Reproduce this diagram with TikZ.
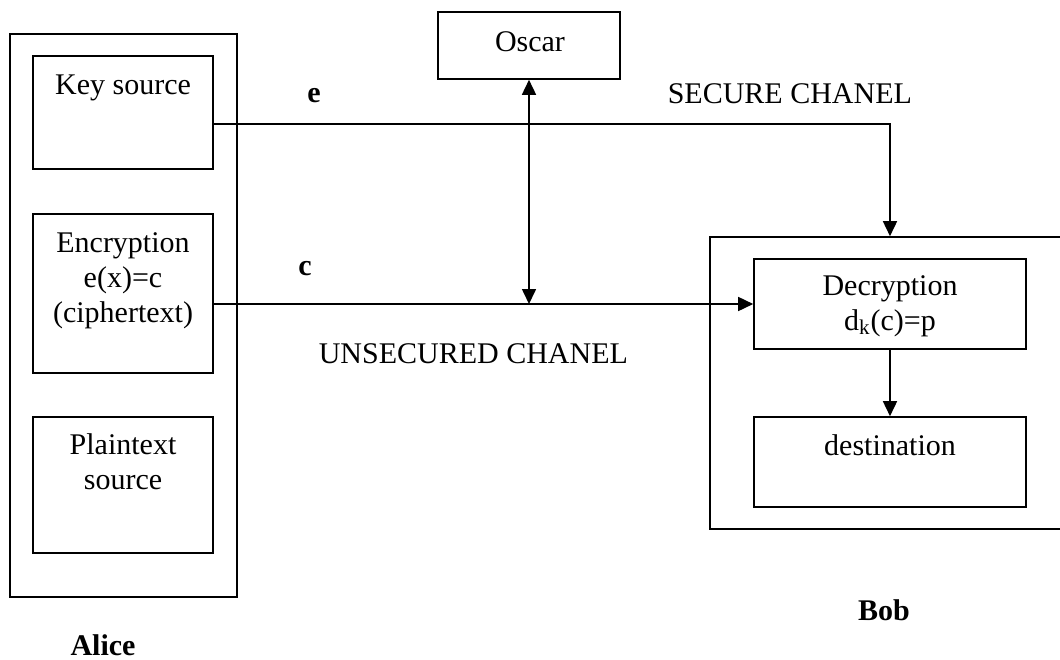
\documentclass[tikz,border=0pt]{standalone}
\usepackage{fontspec}
\setmainfont{Liberation Serif}
\usetikzlibrary{arrows.meta}

\begin{document}
\begin{tikzpicture}[x=0.5pt, y=-0.5pt, line width=0.8pt,
  every node/.style={font=\fontsize{15}{17.5}\selectfont},
  box/.style={draw=black, rectangle, inner sep=0pt},
  lbl/.style={anchor=base, align=center, inner sep=0pt},
  arr/.style={-{Triangle[length=7.5pt,width=7pt]}},
  darr/.style={{Triangle[length=7.5pt,width=7pt]}-{Triangle[length=7.5pt,width=7pt]}}]
\clip (0,0) rectangle (1060,659);
% Alice
\node[box, minimum width=113.5pt, minimum height=281.5pt] (alice) at (123.5,315.5) {};
\node[box, minimum width=90pt, minimum height=56.5pt] (key) at (123,112.5) {};
\node[box, minimum width=90pt, minimum height=79.5pt] (enc) at (123,293.5) {};
\node[box, minimum width=90pt, minimum height=68pt] (plain) at (123,485) {};
% base of a multi-line label is its last line
\node[lbl] (keytxt) at (123,94) {Key source};
\node[lbl] (enctxt) at (123,322) {Encryption\\e(x)=c\\(ciphertext)};
\node[lbl] (plaintxt) at (123,489) {Plaintext\\source};
\node[lbl, font=\fontsize{15}{17.5}\selectfont\bfseries] (alicetxt) at (103,655) {Alice};
% Oscar
\node[box, minimum width=91pt, minimum height=33.5pt] (osc) at (529,45.5) {};
\node[lbl] (osctxt) at (530,51) {Oscar};
% Bob
\node[box, minimum width=178pt, minimum height=146pt] (bob) at (888,383) {};
\node[box, minimum width=136pt, minimum height=45pt] (dec) at (890,304) {};
\node[box, minimum width=136pt, minimum height=45pt] (dest) at (890,462) {};
\node[lbl] (dectxt) at (890,330) {Decryption\\d\textsubscript{k}(c)=p};
\node[lbl] (desttxt) at (890,455) {destination};
\node[lbl, font=\fontsize{15}{17.5}\selectfont\bfseries] (bobtxt) at (884,620) {Bob};
% channels
\coordinate (drop) at (dec.north |- bob.north);
\coordinate (tap) at (osc.south |- dec.west);
\draw[arr] ([yshift=-5.75pt]key.east) -| (drop);
\draw[arr] ([yshift=-5.25pt]enc.east) -- (dec.west);
\draw[darr] (osc.south) -- (tap);
\draw[arr] (dec) -- (dest);
\node[lbl, font=\fontsize{15}{17.5}\selectfont\bfseries] (etxt) at (314,102) {e};
\node[lbl, font=\fontsize{15}{17.5}\selectfont\bfseries] (ctxt) at (305,275) {c};
\node[lbl, anchor=base west] (sectxt) at (667,103) {SECURE CHANEL};
\node[lbl, anchor=base west] (unsectxt) at (318,363) {UNSECURED CHANEL};
\end{tikzpicture}
\end{document}
